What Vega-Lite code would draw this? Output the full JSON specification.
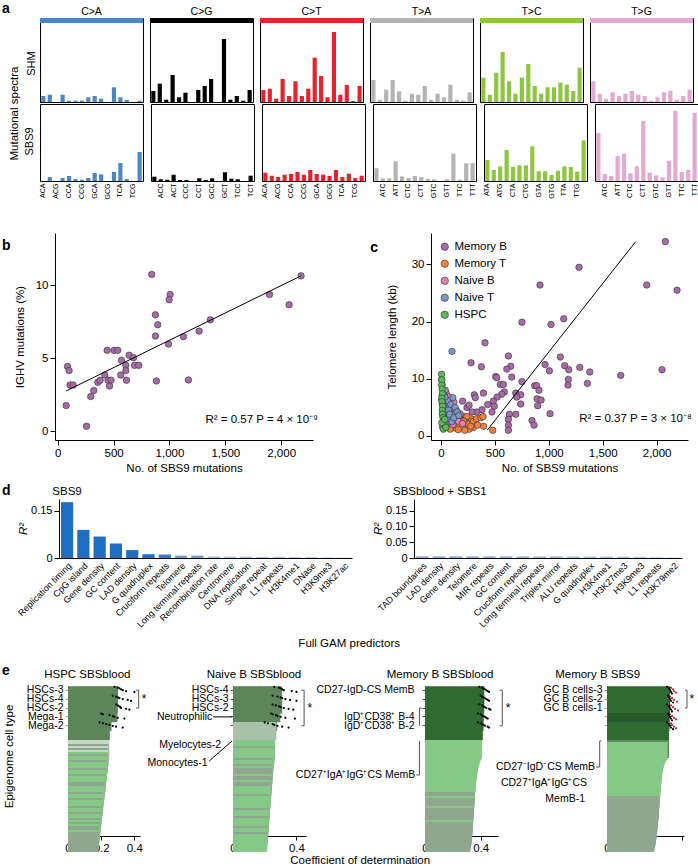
{
"$schema":"https://vega.github.io/schema/vega-lite/v6.json",
"padding":{"left":2,"top":2,"right":0,"bottom":0},
"resolve":{"scale":{"color":"independent","fill":"independent"}},
"config":{
 "font":"Liberation Sans",
 "view":{"stroke":null},
 "axis":{"labelFont":"Liberation Sans","titleFont":"Liberation Sans","labelColor":"#000","titleColor":"#000","titleFontWeight":"normal","domainColor":"#000","tickColor":"#000","grid":false,"labelFontSize":11,"titleFontSize":11.5},
 "title":{"font":"Liberation Sans","fontWeight":"normal","color":"#000","fontSize":11.5},
 "header":{"labelFont":"Liberation Sans","labelColor":"#000","titleFont":"Liberation Sans"},
 "legend":{"labelFont":"Liberation Sans","labelColor":"#000"},
 "text":{"font":"Liberation Sans"}
},
"datasets":{
"spec":[
{"s":"SHM","t":"C>A","strip":1},{"s":"SHM","t":"C>G","strip":1},{"s":"SHM","t":"C>T","strip":1},{"s":"SHM","t":"T>A","strip":1},{"s":"SHM","t":"T>C","strip":1},{"s":"SHM","t":"T>G","strip":1},
{"s":"SHM","t":"C>A","k":"ACA|1","v":6},{"s":"SHM","t":"C>A","k":"ACC|0","v":7.3},{"s":"SHM","t":"C>A","k":"ACG|1","v":0},{"s":"SHM","t":"C>A","k":"ACT|0","v":7.3},{"s":"SHM","t":"C>A","k":"CCA|1","v":1.3},{"s":"SHM","t":"C>A","k":"CCC|0","v":1.3},{"s":"SHM","t":"C>A","k":"CCG|1","v":1.3},{"s":"SHM","t":"C>A","k":"CCT|0","v":4.7},{"s":"SHM","t":"C>A","k":"GCA|1","v":6},{"s":"SHM","t":"C>A","k":"GCC|0","v":3.3},{"s":"SHM","t":"C>A","k":"GCG|1","v":0},{"s":"SHM","t":"C>A","k":"GCT|0","v":14.7},{"s":"SHM","t":"C>A","k":"TCA|1","v":4.7},{"s":"SHM","t":"C>A","k":"TCC|0","v":2},{"s":"SHM","t":"C>A","k":"TCG|1","v":0},{"s":"SHM","t":"C>A","k":"TCT|0","v":1.3},
{"s":"SHM","t":"C>G","k":"ACA|0","v":11},{"s":"SHM","t":"C>G","k":"ACC|1","v":18.3},{"s":"SHM","t":"C>G","k":"ACG|0","v":2.3},{"s":"SHM","t":"C>G","k":"ACT|1","v":27},{"s":"SHM","t":"C>G","k":"CCA|0","v":4.7},{"s":"SHM","t":"C>G","k":"CCC|1","v":9.3},{"s":"SHM","t":"C>G","k":"CCG|0","v":0},{"s":"SHM","t":"C>G","k":"CCT|1","v":12},{"s":"SHM","t":"C>G","k":"GCA|0","v":16},{"s":"SHM","t":"C>G","k":"GCC|1","v":23},{"s":"SHM","t":"C>G","k":"GCG|0","v":0},{"s":"SHM","t":"C>G","k":"GCT|1","v":63},{"s":"SHM","t":"C>G","k":"TCA|0","v":2.3},{"s":"SHM","t":"C>G","k":"TCC|1","v":6},{"s":"SHM","t":"C>G","k":"TCG|0","v":1.3},{"s":"SHM","t":"C>G","k":"TCT|1","v":12},
{"s":"SHM","t":"C>T","k":"ACA|1","v":12},{"s":"SHM","t":"C>T","k":"ACC|0","v":13.3},{"s":"SHM","t":"C>T","k":"ACG|1","v":3.3},{"s":"SHM","t":"C>T","k":"ACT|0","v":23},{"s":"SHM","t":"C>T","k":"CCA|1","v":6},{"s":"SHM","t":"C>T","k":"CCC|0","v":20.7},{"s":"SHM","t":"C>T","k":"CCG|1","v":6},{"s":"SHM","t":"C>T","k":"CCT|0","v":13.3},{"s":"SHM","t":"C>T","k":"GCA|1","v":44.3},{"s":"SHM","t":"C>T","k":"GCC|0","v":26},{"s":"SHM","t":"C>T","k":"GCG|1","v":4.7},{"s":"SHM","t":"C>T","k":"GCT|0","v":70},{"s":"SHM","t":"C>T","k":"TCA|1","v":7.3},{"s":"SHM","t":"C>T","k":"TCC|0","v":17},{"s":"SHM","t":"C>T","k":"TCG|1","v":1},{"s":"SHM","t":"C>T","k":"TCT|0","v":16},
{"s":"SHM","t":"T>A","k":"ATA|0","v":22},{"s":"SHM","t":"T>A","k":"ATC|1","v":2.3},{"s":"SHM","t":"T>A","k":"ATG|0","v":12.3},{"s":"SHM","t":"T>A","k":"ATT|1","v":22},{"s":"SHM","t":"T>A","k":"CTA|0","v":10.7},{"s":"SHM","t":"T>A","k":"CTC|1","v":1.3},{"s":"SHM","t":"T>A","k":"CTG|0","v":8.3},{"s":"SHM","t":"T>A","k":"CTT|1","v":7.3},{"s":"SHM","t":"T>A","k":"GTA|0","v":16},{"s":"SHM","t":"T>A","k":"GTC|1","v":2.3},{"s":"SHM","t":"T>A","k":"GTG|0","v":8.3},{"s":"SHM","t":"T>A","k":"GTT|1","v":4.7},{"s":"SHM","t":"T>A","k":"TTA|0","v":17.3},{"s":"SHM","t":"T>A","k":"TTC|1","v":2.3},{"s":"SHM","t":"T>A","k":"TTG|0","v":1.3},{"s":"SHM","t":"T>A","k":"TTT|1","v":9.7},
{"s":"SHM","t":"T>C","k":"ATA|1","v":24.3},{"s":"SHM","t":"T>C","k":"ATC|0","v":7.3},{"s":"SHM","t":"T>C","k":"ATG|1","v":29.3},{"s":"SHM","t":"T>C","k":"ATT|0","v":50},{"s":"SHM","t":"T>C","k":"CTA|1","v":20.7},{"s":"SHM","t":"T>C","k":"CTC|0","v":8.3},{"s":"SHM","t":"T>C","k":"CTG|1","v":24.3},{"s":"SHM","t":"T>C","k":"CTT|0","v":38},{"s":"SHM","t":"T>C","k":"GTA|1","v":16},{"s":"SHM","t":"T>C","k":"GTC|0","v":8.3},{"s":"SHM","t":"T>C","k":"GTG|1","v":14.7},{"s":"SHM","t":"T>C","k":"GTT|0","v":14.7},{"s":"SHM","t":"T>C","k":"TTA|1","v":19.3},{"s":"SHM","t":"T>C","k":"TTC|0","v":17.3},{"s":"SHM","t":"T>C","k":"TTG|1","v":11},{"s":"SHM","t":"T>C","k":"TTT|0","v":34.3},
{"s":"SHM","t":"T>G","k":"ATA|0","v":20.7},{"s":"SHM","t":"T>G","k":"ATC|1","v":8.3},{"s":"SHM","t":"T>G","k":"ATG|0","v":3.3},{"s":"SHM","t":"T>G","k":"ATT|1","v":9.7},{"s":"SHM","t":"T>G","k":"CTA|0","v":6},{"s":"SHM","t":"T>G","k":"CTC|1","v":8.3},{"s":"SHM","t":"T>G","k":"CTG|0","v":11},{"s":"SHM","t":"T>G","k":"CTT|1","v":7.3},{"s":"SHM","t":"T>G","k":"GTA|0","v":6},{"s":"SHM","t":"T>G","k":"GTC|1","v":1.3},{"s":"SHM","t":"T>G","k":"GTG|0","v":4.7},{"s":"SHM","t":"T>G","k":"GTT|1","v":9.7},{"s":"SHM","t":"T>G","k":"TTA|0","v":11},{"s":"SHM","t":"T>G","k":"TTC|1","v":2.3},{"s":"SHM","t":"T>G","k":"TTG|0","v":6},{"s":"SHM","t":"T>G","k":"TTT|1","v":12.3},
{"s":"SBS9","t":"C>A","k":"ACA|1","v":0},{"s":"SBS9","t":"C>A","k":"ACC|0","v":4},{"s":"SBS9","t":"C>A","k":"ACG|1","v":0},{"s":"SBS9","t":"C>A","k":"ACT|0","v":3},{"s":"SBS9","t":"C>A","k":"CCA|1","v":5},{"s":"SBS9","t":"C>A","k":"CCC|0","v":2},{"s":"SBS9","t":"C>A","k":"CCG|1","v":1.3},{"s":"SBS9","t":"C>A","k":"CCT|0","v":3},{"s":"SBS9","t":"C>A","k":"GCA|1","v":8},{"s":"SBS9","t":"C>A","k":"GCC|0","v":6.7},{"s":"SBS9","t":"C>A","k":"GCG|1","v":0},{"s":"SBS9","t":"C>A","k":"GCT|0","v":9},{"s":"SBS9","t":"C>A","k":"TCA|1","v":18},{"s":"SBS9","t":"C>A","k":"TCC|0","v":2},{"s":"SBS9","t":"C>A","k":"TCG|1","v":0},{"s":"SBS9","t":"C>A","k":"TCT|0","v":29},
{"s":"SBS9","t":"C>G","k":"ACA|0","v":4.3},{"s":"SBS9","t":"C>G","k":"ACC|1","v":1.7},{"s":"SBS9","t":"C>G","k":"ACG|0","v":1.3},{"s":"SBS9","t":"C>G","k":"ACT|1","v":6.3},{"s":"SBS9","t":"C>G","k":"CCA|0","v":1},{"s":"SBS9","t":"C>G","k":"CCC|1","v":1},{"s":"SBS9","t":"C>G","k":"CCG|0","v":0},{"s":"SBS9","t":"C>G","k":"CCT|1","v":2.7},{"s":"SBS9","t":"C>G","k":"GCA|0","v":1},{"s":"SBS9","t":"C>G","k":"GCC|1","v":2.7},{"s":"SBS9","t":"C>G","k":"GCG|0","v":0},{"s":"SBS9","t":"C>G","k":"GCT|1","v":8.7},{"s":"SBS9","t":"C>G","k":"TCA|0","v":2.3},{"s":"SBS9","t":"C>G","k":"TCC|1","v":1.7},{"s":"SBS9","t":"C>G","k":"TCG|0","v":0},{"s":"SBS9","t":"C>G","k":"TCT|1","v":5.3},
{"s":"SBS9","t":"C>T","k":"ACA|1","v":8.3},{"s":"SBS9","t":"C>T","k":"ACC|0","v":5.3},{"s":"SBS9","t":"C>T","k":"ACG|1","v":4},{"s":"SBS9","t":"C>T","k":"ACT|0","v":6.3},{"s":"SBS9","t":"C>T","k":"CCA|1","v":7},{"s":"SBS9","t":"C>T","k":"CCC|0","v":9},{"s":"SBS9","t":"C>T","k":"CCG|1","v":6.3},{"s":"SBS9","t":"C>T","k":"CCT|0","v":11},{"s":"SBS9","t":"C>T","k":"GCA|1","v":7},{"s":"SBS9","t":"C>T","k":"GCC|0","v":6.3},{"s":"SBS9","t":"C>T","k":"GCG|1","v":5},{"s":"SBS9","t":"C>T","k":"GCT|0","v":11},{"s":"SBS9","t":"C>T","k":"TCA|1","v":4},{"s":"SBS9","t":"C>T","k":"TCC|0","v":7.3},{"s":"SBS9","t":"C>T","k":"TCG|1","v":3},{"s":"SBS9","t":"C>T","k":"TCT|0","v":5.3},
{"s":"SBS9","t":"T>A","k":"ATA|0","v":12.7},{"s":"SBS9","t":"T>A","k":"ATC|1","v":2.7},{"s":"SBS9","t":"T>A","k":"ATG|0","v":2.7},{"s":"SBS9","t":"T>A","k":"ATT|1","v":19.7},{"s":"SBS9","t":"T>A","k":"CTA|0","v":4.7},{"s":"SBS9","t":"T>A","k":"CTC|1","v":3},{"s":"SBS9","t":"T>A","k":"CTG|0","v":5},{"s":"SBS9","t":"T>A","k":"CTT|1","v":4},{"s":"SBS9","t":"T>A","k":"GTA|0","v":2.3},{"s":"SBS9","t":"T>A","k":"GTC|1","v":1.7},{"s":"SBS9","t":"T>A","k":"GTG|0","v":0},{"s":"SBS9","t":"T>A","k":"GTT|1","v":1.7},{"s":"SBS9","t":"T>A","k":"TTA|0","v":27.3},{"s":"SBS9","t":"T>A","k":"TTC|1","v":1.3},{"s":"SBS9","t":"T>A","k":"TTG|0","v":17.7},{"s":"SBS9","t":"T>A","k":"TTT|1","v":18},
{"s":"SBS9","t":"T>C","k":"ATA|1","v":21},{"s":"SBS9","t":"T>C","k":"ATC|0","v":11},{"s":"SBS9","t":"T>C","k":"ATG|1","v":14.7},{"s":"SBS9","t":"T>C","k":"ATT|0","v":31},{"s":"SBS9","t":"T>C","k":"CTA|1","v":14},{"s":"SBS9","t":"T>C","k":"CTC|0","v":15.7},{"s":"SBS9","t":"T>C","k":"CTG|1","v":15.7},{"s":"SBS9","t":"T>C","k":"CTT|0","v":34.7},{"s":"SBS9","t":"T>C","k":"GTA|1","v":9.7},{"s":"SBS9","t":"T>C","k":"GTC|0","v":9.7},{"s":"SBS9","t":"T>C","k":"GTG|1","v":6},{"s":"SBS9","t":"T>C","k":"GTT|0","v":10.3},{"s":"SBS9","t":"T>C","k":"TTA|1","v":14.7},{"s":"SBS9","t":"T>C","k":"TTC|0","v":14},{"s":"SBS9","t":"T>C","k":"TTG|1","v":9.3},{"s":"SBS9","t":"T>C","k":"TTT|0","v":40.7},
{"s":"SBS9","t":"T>G","k":"ATA|0","v":48},{"s":"SBS9","t":"T>G","k":"ATC|1","v":7},{"s":"SBS9","t":"T>G","k":"ATG|0","v":5},{"s":"SBS9","t":"T>G","k":"ATT|1","v":25},{"s":"SBS9","t":"T>G","k":"CTA|0","v":27.3},{"s":"SBS9","t":"T>G","k":"CTC|1","v":7.7},{"s":"SBS9","t":"T>G","k":"CTG|0","v":14.7},{"s":"SBS9","t":"T>G","k":"CTT|1","v":60},{"s":"SBS9","t":"T>G","k":"GTA|0","v":8.3},{"s":"SBS9","t":"T>G","k":"GTC|1","v":5.7},{"s":"SBS9","t":"T>G","k":"GTG|0","v":3.7},{"s":"SBS9","t":"T>G","k":"GTT|1","v":20.3},{"s":"SBS9","t":"T>G","k":"TTA|0","v":70},{"s":"SBS9","t":"T>G","k":"TTC|1","v":9},{"s":"SBS9","t":"T>G","k":"TTG|0","v":11},{"s":"SBS9","t":"T>G","k":"TTT|1","v":68}
],
"bpts":[{"n":841,"p":10.76},{"n":2178,"p":10.66},{"n":1006,"p":9.38},{"n":997,"p":9.02},{"n":1895,"p":9.38},{"n":2071,"p":8.68},{"n":874,"p":7.99},{"n":895,"p":7.31},{"n":1366,"p":7.65},{"n":1265,"p":6.87},{"n":874,"p":6.53},{"n":1125,"p":6.49},{"n":991,"p":5.98},{"n":442,"p":5.55},{"n":504,"p":5.55},{"n":537,"p":5.55},{"n":639,"p":5.21},{"n":678,"p":5.05},{"n":570,"p":4.87},{"n":687,"p":4.52},{"n":725,"p":4.52},{"n":609,"p":4.52},{"n":609,"p":4.16},{"n":87,"p":4.45},{"n":101,"p":4.16},{"n":110,"p":3.17},{"n":137,"p":3.17},{"n":421,"p":3.86},{"n":564,"p":3.86},{"n":358,"p":3.36},{"n":379,"p":3.5},{"n":450,"p":3.5},{"n":477,"p":3.5},{"n":463,"p":3.1},{"n":615,"p":3.5},{"n":883,"p":3.45},{"n":1170,"p":3.52},{"n":322,"p":2.79},{"n":295,"p":2.38},{"n":75,"p":1.76},{"n":257,"p":0.34}],
"bfit":[{"n":75,"p":2.77},{"n":2178,"p":10.66}],
"cpts":[
{"n":2081,"tl":34.0,"g":"Memory B"},{"n":1280,"tl":29.5,"g":"Memory B"},{"n":918,"tl":26.4,"g":"Memory B"},{"n":1908,"tl":26.4,"g":"Memory B"},{"n":2189,"tl":25.5,"g":"Memory B"},{"n":1138,"tl":20.5,"g":"Memory B"},{"n":751,"tl":19.9,"g":"Memory B"},{"n":1020,"tl":19.5,"g":"Memory B"},{"n":408,"tl":16.3,"g":"Memory B"},{"n":625,"tl":14.0,"g":"Memory B"},{"n":278,"tl":12.8,"g":"Memory B"},{"n":374,"tl":12.1,"g":"Memory B"},{"n":965,"tl":12.5,"g":"Memory B"},{"n":1147,"tl":12.3,"g":"Memory B"},{"n":1107,"tl":13.8,"g":"Memory B"},{"n":1287,"tl":12.0,"g":"Memory B"},{"n":2050,"tl":11.6,"g":"Memory B"},{"n":647,"tl":12.2,"g":"Memory B"},{"n":610,"tl":11.7,"g":"Memory B"},{"n":1005,"tl":11.4,"g":"Memory B"},{"n":1185,"tl":11.6,"g":"Memory B"},{"n":1380,"tl":11.2,"g":"Memory B"},{"n":507,"tl":10.4,"g":"Memory B"},{"n":517,"tl":10.2,"g":"Memory B"},{"n":656,"tl":10.3,"g":"Memory B"},{"n":1667,"tl":10.6,"g":"Memory B"},{"n":1358,"tl":9.2,"g":"Memory B"},{"n":1181,"tl":9.9,"g":"Memory B"},{"n":1178,"tl":8.9,"g":"Memory B"},{"n":751,"tl":9.5,"g":"Memory B"},{"n":550,"tl":9.0,"g":"Memory B"},{"n":578,"tl":9.0,"g":"Memory B"},{"n":869,"tl":8.8,"g":"Memory B"},{"n":888,"tl":8.8,"g":"Memory B"},{"n":909,"tl":8.0,"g":"Memory B"},{"n":587,"tl":7.7,"g":"Memory B"},{"n":563,"tl":7.3,"g":"Memory B"},{"n":693,"tl":7.5,"g":"Memory B"},{"n":739,"tl":7.2,"g":"Memory B"},{"n":309,"tl":7.2,"g":"Memory B"},{"n":318,"tl":6.7,"g":"Memory B"},{"n":393,"tl":7.5,"g":"Memory B"},{"n":520,"tl":6.8,"g":"Memory B"},{"n":702,"tl":6.8,"g":"Memory B"},{"n":891,"tl":6.5,"g":"Memory B"},{"n":928,"tl":6.3,"g":"Memory B"},{"n":485,"tl":6.1,"g":"Memory B"},{"n":433,"tl":5.5,"g":"Memory B"},{"n":897,"tl":5.3,"g":"Memory B"},{"n":739,"tl":5.6,"g":"Memory B"},{"n":494,"tl":5.2,"g":"Memory B"},{"n":380,"tl":4.6,"g":"Memory B"},{"n":473,"tl":4.2,"g":"Memory B"},{"n":331,"tl":4.2,"g":"Memory B"},{"n":634,"tl":3.8,"g":"Memory B"},{"n":693,"tl":3.8,"g":"Memory B"},{"n":1011,"tl":3.9,"g":"Memory B"},{"n":625,"tl":2.9,"g":"Memory B"},{"n":844,"tl":2.7,"g":"Memory B"},{"n":863,"tl":1.9,"g":"Memory B"},{"n":625,"tl":1.9,"g":"Memory B"},{"n":625,"tl":1.0,"g":"Memory B"},{"n":220,"tl":3.4,"g":"Memory B"},{"n":241,"tl":5.0,"g":"Memory B"},{"n":288,"tl":4.2,"g":"Memory B"},{"n":170,"tl":3.9,"g":"Memory B"},{"n":83,"tl":5.2,"g":"Memory B"},{"n":150,"tl":2.5,"g":"Memory B"},{"n":200,"tl":6.1,"g":"Memory B"},{"n":260,"tl":5.4,"g":"Memory B"},
{"n":8,"tl":6.3,"g":"Memory T"},{"n":12,"tl":5.6,"g":"Memory T"},{"n":20,"tl":4.8,"g":"Memory T"},{"n":35,"tl":4.2,"g":"Memory T"},{"n":50,"tl":3.6,"g":"Memory T"},{"n":70,"tl":3.2,"g":"Memory T"},{"n":95,"tl":2.9,"g":"Memory T"},{"n":120,"tl":2.4,"g":"Memory T"},{"n":145,"tl":2.0,"g":"Memory T"},{"n":170,"tl":1.8,"g":"Memory T"},{"n":200,"tl":1.5,"g":"Memory T"},{"n":230,"tl":2.9,"g":"Memory T"},{"n":250,"tl":2.2,"g":"Memory T"},{"n":280,"tl":3.0,"g":"Memory T"},{"n":300,"tl":2.6,"g":"Memory T"},{"n":330,"tl":3.0,"g":"Memory T"},{"n":370,"tl":3.2,"g":"Memory T"},{"n":390,"tl":3.4,"g":"Memory T"},{"n":300,"tl":1.5,"g":"Memory T"},{"n":260,"tl":1.2,"g":"Memory T"},{"n":220,"tl":1.0,"g":"Memory T"},{"n":190,"tl":2.5,"g":"Memory T"},{"n":150,"tl":3.0,"g":"Memory T"},{"n":130,"tl":1.4,"g":"Memory T"},{"n":100,"tl":1.8,"g":"Memory T"},{"n":60,"tl":2.0,"g":"Memory T"},{"n":40,"tl":1.5,"g":"Memory T"},{"n":85,"tl":1.2,"g":"Memory T"},{"n":110,"tl":3.8,"g":"Memory T"},{"n":55,"tl":4.8,"g":"Memory T"},{"n":30,"tl":2.4,"g":"Memory T"},{"n":480,"tl":1.0,"g":"Memory T"},{"n":395,"tl":1.7,"g":"Memory T"},{"n":340,"tl":1.9,"g":"Memory T"},{"n":275,"tl":1.7,"g":"Memory T"},{"n":160,"tl":1.1,"g":"Memory T"},{"n":240,"tl":3.4,"g":"Memory T"},{"n":210,"tl":2.6,"g":"Memory T"},
{"n":10,"tl":7.0,"g":"Naive B"},{"n":30,"tl":6.5,"g":"Naive B"},{"n":50,"tl":7.4,"g":"Naive B"},{"n":70,"tl":5.8,"g":"Naive B"},{"n":95,"tl":4.8,"g":"Naive B"},{"n":20,"tl":5.3,"g":"Naive B"},{"n":120,"tl":5.9,"g":"Naive B"},{"n":140,"tl":4.6,"g":"Naive B"},{"n":40,"tl":4.2,"g":"Naive B"},{"n":85,"tl":3.4,"g":"Naive B"},{"n":60,"tl":2.8,"g":"Naive B"},{"n":110,"tl":2.0,"g":"Naive B"},{"n":25,"tl":2.5,"g":"Naive B"},{"n":75,"tl":6.8,"g":"Naive B"},{"n":180,"tl":3.8,"g":"Naive B"},{"n":160,"tl":2.6,"g":"Naive B"},{"n":200,"tl":2.2,"g":"Naive B"},{"n":15,"tl":4.0,"g":"Naive B"},
{"n":102,"tl":14.8,"g":"Naive T"},{"n":5,"tl":9.9,"g":"Naive T"},{"n":10,"tl":9.0,"g":"Naive T"},{"n":40,"tl":8.0,"g":"Naive T"},{"n":25,"tl":7.2,"g":"Naive T"},{"n":110,"tl":6.7,"g":"Naive T"},{"n":60,"tl":6.2,"g":"Naive T"},{"n":90,"tl":5.5,"g":"Naive T"},{"n":130,"tl":5.0,"g":"Naive T"},{"n":150,"tl":4.2,"g":"Naive T"},{"n":70,"tl":4.5,"g":"Naive T"},{"n":20,"tl":3.5,"g":"Naive T"},{"n":55,"tl":3.0,"g":"Naive T"},{"n":100,"tl":2.5,"g":"Naive T"},{"n":35,"tl":6.8,"g":"Naive T"},{"n":80,"tl":3.8,"g":"Naive T"},{"n":15,"tl":5.8,"g":"Naive T"},{"n":120,"tl":3.2,"g":"Naive T"},{"n":45,"tl":2.2,"g":"Naive T"},{"n":165,"tl":3.6,"g":"Naive T"},
{"n":5,"tl":10.8,"g":"HSPC"},{"n":8,"tl":9.8,"g":"HSPC"},{"n":6,"tl":8.9,"g":"HSPC"},{"n":10,"tl":8.2,"g":"HSPC"},{"n":12,"tl":7.4,"g":"HSPC"},{"n":7,"tl":6.6,"g":"HSPC"},{"n":9,"tl":6.0,"g":"HSPC"},{"n":15,"tl":5.2,"g":"HSPC"},{"n":11,"tl":4.5,"g":"HSPC"},{"n":13,"tl":3.8,"g":"HSPC"},{"n":18,"tl":3.2,"g":"HSPC"},{"n":20,"tl":2.6,"g":"HSPC"},{"n":25,"tl":2.0,"g":"HSPC"},{"n":14,"tl":1.6,"g":"HSPC"},{"n":30,"tl":1.4,"g":"HSPC"},{"n":22,"tl":1.2,"g":"HSPC"},{"n":40,"tl":1.8,"g":"HSPC"},{"n":8,"tl":2.3,"g":"HSPC"},{"n":35,"tl":2.9,"g":"HSPC"},{"n":45,"tl":1.5,"g":"HSPC"}
],
"cfit":[{"n":430,"tl":1.05},{"n":1806,"tl":34.0}],
"dl":[{"f":"Replication timing","r":0.177},{"f":"CpG island","r":0.089},{"f":"Gene density","r":0.068},{"f":"GC content","r":0.046},{"f":"LAD density","r":0.025},{"f":"G quadruplex","r":0.012},{"f":"Cruciform repeats","r":0.011},{"f":"Telomere","r":0.0075},{"f":"Long terminal repeats","r":0.0075},{"f":"Recombination rate","r":0.0045},{"f":"Centromere","r":0.004},{"f":"DNA replication","r":0.004},{"f":"Simple repeat","r":0.0035},{"f":"L1 repeats","r":0.0035},{"f":"H3K4me1","r":0.003},{"f":"DNase","r":0.003},{"f":"H3K9me3","r":0.002},{"f":"H3K27ac","r":0.0012}],
"dr":[{"f":"TAD boundaries","r":0.0055},{"f":"LAD density","r":0.0055},{"f":"Gene density","r":0.0054},{"f":"Telomere","r":0.0053},{"f":"MIR repeats","r":0.0053},{"f":"GC content","r":0.0052},{"f":"Cruciform repeats","r":0.0051},{"f":"Long terminal repeats","r":0.005},{"f":"Triplex mirror","r":0.005},{"f":"ALU repeats","r":0.0045},{"f":"G quadruplex","r":0.0043},{"f":"H3K4me1","r":0.0042},{"f":"H3K27me3","r":0.004},{"f":"H3K9me3","r":0.0032},{"f":"L1 repeats","r":0.0026},{"f":"H3K79me2","r":0.0015}],
"eTop":[
{"c":"e1","n":"HSCs-3","v":0.302,"o":"k1"},{"c":"e1","n":"HSCs-4","v":0.300,"o":"k1"},{"c":"e1","n":"HSCs-2","v":0.298,"o":"k1"},{"c":"e1","n":"Mega-1","v":0.262,"o":"k1"},{"c":"e1","n":"Mega-2","v":0.252,"o":"k1"},
{"c":"e2","n":"HSCs-4","v":0.308,"o":"k1"},{"c":"e2","n":"HSCs-3","v":0.310,"o":"k1"},{"c":"e2","n":"HSCs-2","v":0.298,"o":"k1"},{"c":"e2","n":"Neutrophilic Myelocytes-2","v":0.278,"o":"k1"},{"c":"e2","n":"Monocytes-1","v":0.273,"o":"l"},
{"c":"e3","n":"CD27-IgD-CS MemB","v":0.425,"o":"k2"},{"c":"e3","n":"IgD⁺CD38⁺ B-1","v":0.425,"o":"k2"},{"c":"e3","n":"IgD⁺CD38⁺ B-3","v":0.420,"o":"k2"},{"c":"e3","n":"IgD⁺CD38⁺ B-4","v":0.420,"o":"k2"},{"c":"e3","n":"IgD⁺CD38⁺ B-2","v":0.415,"o":"k2"},
{"c":"e4","n":"GC B cells-3","v":0.630,"o":"k2"},{"c":"e4","n":"GC B cells-2","v":0.630,"o":"k2"},{"c":"e4","n":"GC B cells-1","v":0.625,"o":"k2"},{"c":"e4","n":"CD27⁻IgD⁻CS MemB","v":0.625,"o":"k3"},{"c":"e4","n":"CD27⁺IgA⁺IgG⁺CS MemB-1","v":0.620,"o":"k2"}
],
"eDots":[
{"c":"e1","n":"HSCs-3","r":1,"v":0.28,"k":"b"},{"c":"e1","n":"HSCs-3","r":2,"v":0.30,"k":"b"},{"c":"e1","n":"HSCs-3","r":3,"v":0.31,"k":"b"},{"c":"e1","n":"HSCs-3","r":4,"v":0.32,"k":"b"},{"c":"e1","n":"HSCs-3","r":5,"v":0.33,"k":"b"},{"c":"e1","n":"HSCs-3","r":6,"v":0.35,"k":"b"},{"c":"e1","n":"HSCs-3","r":7,"v":0.40,"k":"b"},
{"c":"e1","n":"HSCs-4","r":1,"v":0.27,"k":"b"},{"c":"e1","n":"HSCs-4","r":2,"v":0.29,"k":"b"},{"c":"e1","n":"HSCs-4","r":3,"v":0.30,"k":"b"},{"c":"e1","n":"HSCs-4","r":4,"v":0.31,"k":"b"},{"c":"e1","n":"HSCs-4","r":5,"v":0.33,"k":"b"},{"c":"e1","n":"HSCs-4","r":6,"v":0.36,"k":"b"},{"c":"e1","n":"HSCs-4","r":7,"v":0.38,"k":"b"},
{"c":"e1","n":"HSCs-2","r":1,"v":0.29,"k":"b"},{"c":"e1","n":"HSCs-2","r":2,"v":0.30,"k":"b"},{"c":"e1","n":"HSCs-2","r":3,"v":0.31,"k":"b"},{"c":"e1","n":"HSCs-2","r":4,"v":0.315,"k":"b"},{"c":"e1","n":"HSCs-2","r":5,"v":0.32,"k":"b"},{"c":"e1","n":"HSCs-2","r":6,"v":0.35,"k":"b"},{"c":"e1","n":"HSCs-2","r":7,"v":0.37,"k":"b"},
{"c":"e1","n":"Mega-1","r":1,"v":0.20,"k":"b"},{"c":"e1","n":"Mega-1","r":2,"v":0.21,"k":"b"},{"c":"e1","n":"Mega-1","r":3,"v":0.25,"k":"b"},{"c":"e1","n":"Mega-1","r":4,"v":0.27,"k":"b"},{"c":"e1","n":"Mega-1","r":5,"v":0.28,"k":"b"},{"c":"e1","n":"Mega-1","r":6,"v":0.30,"k":"b"},{"c":"e1","n":"Mega-1","r":7,"v":0.34,"k":"b"},
{"c":"e1","n":"Mega-2","r":1,"v":0.19,"k":"b"},{"c":"e1","n":"Mega-2","r":2,"v":0.21,"k":"b"},{"c":"e1","n":"Mega-2","r":3,"v":0.23,"k":"b"},{"c":"e1","n":"Mega-2","r":4,"v":0.25,"k":"b"},{"c":"e1","n":"Mega-2","r":5,"v":0.27,"k":"b"},{"c":"e1","n":"Mega-2","r":6,"v":0.29,"k":"b"},{"c":"e1","n":"Mega-2","r":7,"v":0.33,"k":"b"},
{"c":"e2","n":"HSCs-4","r":1,"v":0.26,"k":"b"},{"c":"e2","n":"HSCs-4","r":2,"v":0.29,"k":"b"},{"c":"e2","n":"HSCs-4","r":3,"v":0.30,"k":"b"},{"c":"e2","n":"HSCs-4","r":4,"v":0.31,"k":"b"},{"c":"e2","n":"HSCs-4","r":5,"v":0.32,"k":"b"},{"c":"e2","n":"HSCs-4","r":6,"v":0.37,"k":"b"},{"c":"e2","n":"HSCs-4","r":7,"v":0.40,"k":"b"},
{"c":"e2","n":"HSCs-3","r":1,"v":0.25,"k":"b"},{"c":"e2","n":"HSCs-3","r":2,"v":0.28,"k":"b"},{"c":"e2","n":"HSCs-3","r":3,"v":0.30,"k":"b"},{"c":"e2","n":"HSCs-3","r":4,"v":0.31,"k":"b"},{"c":"e2","n":"HSCs-3","r":5,"v":0.33,"k":"b"},{"c":"e2","n":"HSCs-3","r":6,"v":0.36,"k":"b"},{"c":"e2","n":"HSCs-3","r":7,"v":0.40,"k":"b"},
{"c":"e2","n":"HSCs-2","r":1,"v":0.25,"k":"b"},{"c":"e2","n":"HSCs-2","r":2,"v":0.27,"k":"b"},{"c":"e2","n":"HSCs-2","r":3,"v":0.29,"k":"b"},{"c":"e2","n":"HSCs-2","r":4,"v":0.30,"k":"b"},{"c":"e2","n":"HSCs-2","r":5,"v":0.32,"k":"b"},{"c":"e2","n":"HSCs-2","r":6,"v":0.35,"k":"b"},{"c":"e2","n":"HSCs-2","r":7,"v":0.38,"k":"b"},
{"c":"e2","n":"Neutrophilic Myelocytes-2","r":1,"v":0.24,"k":"b"},{"c":"e2","n":"Neutrophilic Myelocytes-2","r":2,"v":0.25,"k":"b"},{"c":"e2","n":"Neutrophilic Myelocytes-2","r":3,"v":0.27,"k":"b"},{"c":"e2","n":"Neutrophilic Myelocytes-2","r":4,"v":0.28,"k":"b"},{"c":"e2","n":"Neutrophilic Myelocytes-2","r":5,"v":0.30,"k":"b"},{"c":"e2","n":"Neutrophilic Myelocytes-2","r":6,"v":0.33,"k":"b"},{"c":"e2","n":"Neutrophilic Myelocytes-2","r":7,"v":0.39,"k":"b"},
{"c":"e2","n":"Monocytes-1","r":1,"v":0.20,"k":"b"},{"c":"e2","n":"Monocytes-1","r":2,"v":0.22,"k":"b"},{"c":"e2","n":"Monocytes-1","r":3,"v":0.25,"k":"b"},{"c":"e2","n":"Monocytes-1","r":4,"v":0.26,"k":"b"},{"c":"e2","n":"Monocytes-1","r":5,"v":0.28,"k":"b"},{"c":"e2","n":"Monocytes-1","r":6,"v":0.31,"k":"b"},{"c":"e2","n":"Monocytes-1","r":7,"v":0.35,"k":"b"},
{"c":"e3","n":"CD27-IgD-CS MemB","r":1,"v":0.39,"k":"b"},{"c":"e3","n":"CD27-IgD-CS MemB","r":2,"v":0.41,"k":"b"},{"c":"e3","n":"CD27-IgD-CS MemB","r":3,"v":0.42,"k":"b"},{"c":"e3","n":"CD27-IgD-CS MemB","r":4,"v":0.43,"k":"b"},{"c":"e3","n":"CD27-IgD-CS MemB","r":5,"v":0.44,"k":"b"},{"c":"e3","n":"CD27-IgD-CS MemB","r":6,"v":0.45,"k":"b"},{"c":"e3","n":"CD27-IgD-CS MemB","r":7,"v":0.46,"k":"b"},
{"c":"e3","n":"IgD⁺CD38⁺ B-1","r":1,"v":0.40,"k":"b"},{"c":"e3","n":"IgD⁺CD38⁺ B-1","r":2,"v":0.41,"k":"b"},{"c":"e3","n":"IgD⁺CD38⁺ B-1","r":3,"v":0.42,"k":"b"},{"c":"e3","n":"IgD⁺CD38⁺ B-1","r":4,"v":0.43,"k":"b"},{"c":"e3","n":"IgD⁺CD38⁺ B-1","r":5,"v":0.44,"k":"b"},{"c":"e3","n":"IgD⁺CD38⁺ B-1","r":6,"v":0.45,"k":"b"},{"c":"e3","n":"IgD⁺CD38⁺ B-1","r":7,"v":0.46,"k":"b"},
{"c":"e3","n":"IgD⁺CD38⁺ B-3","r":1,"v":0.39,"k":"b"},{"c":"e3","n":"IgD⁺CD38⁺ B-3","r":2,"v":0.41,"k":"b"},{"c":"e3","n":"IgD⁺CD38⁺ B-3","r":3,"v":0.42,"k":"b"},{"c":"e3","n":"IgD⁺CD38⁺ B-3","r":4,"v":0.43,"k":"b"},{"c":"e3","n":"IgD⁺CD38⁺ B-3","r":5,"v":0.44,"k":"b"},{"c":"e3","n":"IgD⁺CD38⁺ B-3","r":6,"v":0.46,"k":"b"},{"c":"e3","n":"IgD⁺CD38⁺ B-3","r":7,"v":0.47,"k":"b"},
{"c":"e3","n":"IgD⁺CD38⁺ B-4","r":1,"v":0.38,"k":"b"},{"c":"e3","n":"IgD⁺CD38⁺ B-4","r":2,"v":0.40,"k":"b"},{"c":"e3","n":"IgD⁺CD38⁺ B-4","r":3,"v":0.41,"k":"b"},{"c":"e3","n":"IgD⁺CD38⁺ B-4","r":4,"v":0.42,"k":"b"},{"c":"e3","n":"IgD⁺CD38⁺ B-4","r":5,"v":0.43,"k":"b"},{"c":"e3","n":"IgD⁺CD38⁺ B-4","r":6,"v":0.44,"k":"b"},{"c":"e3","n":"IgD⁺CD38⁺ B-4","r":7,"v":0.45,"k":"b"},
{"c":"e3","n":"IgD⁺CD38⁺ B-2","r":1,"v":0.38,"k":"b"},{"c":"e3","n":"IgD⁺CD38⁺ B-2","r":2,"v":0.40,"k":"b"},{"c":"e3","n":"IgD⁺CD38⁺ B-2","r":3,"v":0.41,"k":"b"},{"c":"e3","n":"IgD⁺CD38⁺ B-2","r":4,"v":0.42,"k":"b"},{"c":"e3","n":"IgD⁺CD38⁺ B-2","r":5,"v":0.43,"k":"b"},{"c":"e3","n":"IgD⁺CD38⁺ B-2","r":6,"v":0.45,"k":"b"},{"c":"e3","n":"IgD⁺CD38⁺ B-2","r":7,"v":0.46,"k":"b"},
{"c":"e4","n":"GC B cells-3","r":1,"v":0.60,"k":"b"},{"c":"e4","n":"GC B cells-3","r":2,"v":0.64,"k":"r"},{"c":"e4","n":"GC B cells-3","r":3,"v":0.62,"k":"b"},{"c":"e4","n":"GC B cells-3","r":4,"v":0.66,"k":"r"},{"c":"e4","n":"GC B cells-3","r":5,"v":0.63,"k":"b"},{"c":"e4","n":"GC B cells-3","r":6,"v":0.67,"k":"r"},{"c":"e4","n":"GC B cells-3","r":7,"v":0.64,"k":"b"},{"c":"e4","n":"GC B cells-3","r":8,"v":0.69,"k":"r"},{"c":"e4","n":"GC B cells-3","r":9,"v":0.65,"k":"b"},
{"c":"e4","n":"GC B cells-2","r":1,"v":0.61,"k":"b"},{"c":"e4","n":"GC B cells-2","r":2,"v":0.63,"k":"r"},{"c":"e4","n":"GC B cells-2","r":3,"v":0.62,"k":"b"},{"c":"e4","n":"GC B cells-2","r":4,"v":0.65,"k":"r"},{"c":"e4","n":"GC B cells-2","r":5,"v":0.63,"k":"b"},{"c":"e4","n":"GC B cells-2","r":6,"v":0.67,"k":"r"},{"c":"e4","n":"GC B cells-2","r":7,"v":0.64,"k":"b"},{"c":"e4","n":"GC B cells-2","r":8,"v":0.70,"k":"r"},{"c":"e4","n":"GC B cells-2","r":9,"v":0.66,"k":"b"},
{"c":"e4","n":"GC B cells-1","r":1,"v":0.60,"k":"b"},{"c":"e4","n":"GC B cells-1","r":2,"v":0.64,"k":"r"},{"c":"e4","n":"GC B cells-1","r":3,"v":0.62,"k":"b"},{"c":"e4","n":"GC B cells-1","r":4,"v":0.66,"k":"r"},{"c":"e4","n":"GC B cells-1","r":5,"v":0.63,"k":"b"},{"c":"e4","n":"GC B cells-1","r":6,"v":0.68,"k":"r"},{"c":"e4","n":"GC B cells-1","r":7,"v":0.64,"k":"b"},{"c":"e4","n":"GC B cells-1","r":8,"v":0.71,"k":"r"},{"c":"e4","n":"GC B cells-1","r":9,"v":0.65,"k":"b"},
{"c":"e4","n":"CD27⁻IgD⁻CS MemB","r":1,"v":0.61,"k":"b"},{"c":"e4","n":"CD27⁻IgD⁻CS MemB","r":2,"v":0.63,"k":"r"},{"c":"e4","n":"CD27⁻IgD⁻CS MemB","r":3,"v":0.62,"k":"b"},{"c":"e4","n":"CD27⁻IgD⁻CS MemB","r":4,"v":0.65,"k":"r"},{"c":"e4","n":"CD27⁻IgD⁻CS MemB","r":5,"v":0.63,"k":"b"},{"c":"e4","n":"CD27⁻IgD⁻CS MemB","r":6,"v":0.67,"k":"r"},{"c":"e4","n":"CD27⁻IgD⁻CS MemB","r":7,"v":0.64,"k":"b"},{"c":"e4","n":"CD27⁻IgD⁻CS MemB","r":8,"v":0.69,"k":"r"},{"c":"e4","n":"CD27⁻IgD⁻CS MemB","r":9,"v":0.65,"k":"b"},
{"c":"e4","n":"CD27⁺IgA⁺IgG⁺CS MemB-1","r":1,"v":0.60,"k":"b"},{"c":"e4","n":"CD27⁺IgA⁺IgG⁺CS MemB-1","r":2,"v":0.64,"k":"r"},{"c":"e4","n":"CD27⁺IgA⁺IgG⁺CS MemB-1","r":3,"v":0.62,"k":"b"},{"c":"e4","n":"CD27⁺IgA⁺IgG⁺CS MemB-1","r":4,"v":0.65,"k":"r"},{"c":"e4","n":"CD27⁺IgA⁺IgG⁺CS MemB-1","r":5,"v":0.63,"k":"b"},{"c":"e4","n":"CD27⁺IgA⁺IgG⁺CS MemB-1","r":6,"v":0.67,"k":"r"},{"c":"e4","n":"CD27⁺IgA⁺IgG⁺CS MemB-1","r":7,"v":0.64,"k":"b"},{"c":"e4","n":"CD27⁺IgA⁺IgG⁺CS MemB-1","r":8,"v":0.69,"k":"r"},{"c":"e4","n":"CD27⁺IgA⁺IgG⁺CS MemB-1","r":9,"v":0.66,"k":"b"}
],
"eLow":[
{"c":"e1","n":"E01","v":0.250,"o":"p"},{"c":"e1","n":"E02","v":0.248,"o":"p"},{"c":"e1","n":"E03","v":0.246,"o":"d"},{"c":"e1","n":"E04","v":0.245,"o":"p"},{"c":"e1","n":"E05","v":0.244,"o":"d"},{"c":"e1","n":"E06","v":0.242,"o":"p"},{"c":"e1","n":"E07","v":0.241,"o":"g"},{"c":"e1","n":"E08","v":0.240,"o":"d"},{"c":"e1","n":"E09","v":0.238,"o":"g"},{"c":"e1","n":"E10","v":0.236,"o":"g"},{"c":"e1","n":"E11","v":0.235,"o":"d"},{"c":"e1","n":"E12","v":0.234,"o":"g"},{"c":"e1","n":"E13","v":0.232,"o":"g"},{"c":"e1","n":"E14","v":0.231,"o":"g"},{"c":"e1","n":"E15","v":0.229,"o":"d"},{"c":"e1","n":"E16","v":0.228,"o":"g"},{"c":"e1","n":"E17","v":0.226,"o":"g"},{"c":"e1","n":"E18","v":0.225,"o":"d"},{"c":"e1","n":"E19","v":0.224,"o":"g"},{"c":"e1","n":"E20","v":0.222,"o":"g"},{"c":"e1","n":"E21","v":0.221,"o":"g"},{"c":"e1","n":"E22","v":0.219,"o":"d"},{"c":"e1","n":"E23","v":0.218,"o":"d"},{"c":"e1","n":"E24","v":0.216,"o":"g"},{"c":"e1","n":"E25","v":0.215,"o":"g"},{"c":"e1","n":"E26","v":0.214,"o":"g"},{"c":"e1","n":"E27","v":0.212,"o":"d"},{"c":"e1","n":"E28","v":0.211,"o":"g"},{"c":"e1","n":"E29","v":0.209,"o":"g"},{"c":"e1","n":"E30","v":0.208,"o":"d"},{"c":"e1","n":"E31","v":0.207,"o":"g"},{"c":"e1","n":"E32","v":0.205,"o":"g"},{"c":"e1","n":"E33","v":0.204,"o":"g"},{"c":"e1","n":"E34","v":0.202,"o":"d"},{"c":"e1","n":"E35","v":0.201,"o":"g"},{"c":"e1","n":"E36","v":0.200,"o":"g"},{"c":"e1","n":"E37","v":0.198,"o":"d"},{"c":"e1","n":"E38","v":0.197,"o":"g"},{"c":"e1","n":"E39","v":0.196,"o":"g"},{"c":"e1","n":"E40","v":0.194,"o":"d"},{"c":"e1","n":"E41","v":0.193,"o":"g"},{"c":"e1","n":"E42","v":0.192,"o":"d"},{"c":"e1","n":"E43","v":0.190,"o":"g"},{"c":"e1","n":"E44","v":0.189,"o":"d"},{"c":"e1","n":"E45","v":0.187,"o":"d"},{"c":"e1","n":"E46","v":0.186,"o":"g"},{"c":"e1","n":"E47","v":0.184,"o":"d"},{"c":"e1","n":"E48","v":0.182,"o":"d"},
{"c":"e2","n":"E01","v":0.266,"o":"g"},{"c":"e2","n":"E02","v":0.264,"o":"g"},{"c":"e2","n":"E03","v":0.262,"o":"g"},{"c":"e2","n":"E04","v":0.260,"o":"d"},{"c":"e2","n":"E05","v":0.259,"o":"g"},{"c":"e2","n":"E06","v":0.257,"o":"g"},{"c":"e2","n":"E07","v":0.256,"o":"g"},{"c":"e2","n":"E08","v":0.255,"o":"g"},{"c":"e2","n":"E09","v":0.253,"o":"g"},{"c":"e2","n":"E10","v":0.252,"o":"d"},{"c":"e2","n":"E11","v":0.251,"o":"g"},{"c":"e2","n":"E12","v":0.250,"o":"g"},{"c":"e2","n":"E13","v":0.249,"o":"d"},{"c":"e2","n":"E14","v":0.248,"o":"g"},{"c":"e2","n":"E15","v":0.247,"o":"d"},{"c":"e2","n":"E16","v":0.246,"o":"d"},{"c":"e2","n":"E17","v":0.245,"o":"d"},{"c":"e2","n":"E18","v":0.244,"o":"g"},{"c":"e2","n":"E19","v":0.243,"o":"d"},{"c":"e2","n":"E20","v":0.242,"o":"d"},{"c":"e2","n":"E21","v":0.241,"o":"g"},{"c":"e2","n":"E22","v":0.240,"o":"d"},{"c":"e2","n":"E23","v":0.239,"o":"d"},{"c":"e2","n":"E24","v":0.238,"o":"g"},{"c":"e2","n":"E25","v":0.237,"o":"g"},{"c":"e2","n":"E26","v":0.236,"o":"g"},{"c":"e2","n":"E27","v":0.235,"o":"g"},{"c":"e2","n":"E28","v":0.234,"o":"d"},{"c":"e2","n":"E29","v":0.233,"o":"g"},{"c":"e2","n":"E30","v":0.232,"o":"g"},{"c":"e2","n":"E31","v":0.231,"o":"g"},{"c":"e2","n":"E32","v":0.230,"o":"g"},{"c":"e2","n":"E33","v":0.229,"o":"g"},{"c":"e2","n":"E34","v":0.228,"o":"g"},{"c":"e2","n":"E35","v":0.227,"o":"d"},{"c":"e2","n":"E36","v":0.226,"o":"g"},{"c":"e2","n":"E37","v":0.225,"o":"g"},{"c":"e2","n":"E38","v":0.224,"o":"g"},{"c":"e2","n":"E39","v":0.223,"o":"d"},{"c":"e2","n":"E40","v":0.222,"o":"g"},{"c":"e2","n":"E41","v":0.221,"o":"g"},{"c":"e2","n":"E42","v":0.220,"o":"g"},{"c":"e2","n":"E43","v":0.219,"o":"g"},{"c":"e2","n":"E44","v":0.218,"o":"d"},{"c":"e2","n":"E45","v":0.217,"o":"g"},{"c":"e2","n":"E46","v":0.216,"o":"g"},{"c":"e2","n":"E47","v":0.215,"o":"d"},{"c":"e2","n":"E48","v":0.213,"o":"g"},
{"c":"e3","n":"E01","v":0.410,"o":"g"},{"c":"e3","n":"E02","v":0.404,"o":"g"},{"c":"e3","n":"E03","v":0.398,"o":"g"},{"c":"e3","n":"E04","v":0.393,"o":"g"},{"c":"e3","n":"E05","v":0.389,"o":"g"},{"c":"e3","n":"E06","v":0.385,"o":"g"},{"c":"e3","n":"E07","v":0.382,"o":"g"},{"c":"e3","n":"E08","v":0.379,"o":"g"},{"c":"e3","n":"E09","v":0.377,"o":"g"},{"c":"e3","n":"E10","v":0.375,"o":"g"},{"c":"e3","n":"E11","v":0.373,"o":"g"},{"c":"e3","n":"E12","v":0.371,"o":"g"},{"c":"e3","n":"E13","v":0.369,"o":"g"},{"c":"e3","n":"E14","v":0.368,"o":"g"},{"c":"e3","n":"E15","v":0.366,"o":"g"},{"c":"e3","n":"E16","v":0.365,"o":"g"},{"c":"e3","n":"E17","v":0.364,"o":"g"},{"c":"e3","n":"E18","v":0.362,"o":"g"},{"c":"e3","n":"E19","v":0.361,"o":"g"},{"c":"e3","n":"E20","v":0.360,"o":"g"},{"c":"e3","n":"E21","v":0.359,"o":"g"},{"c":"e3","n":"E22","v":0.358,"o":"g"},{"c":"e3","n":"E23","v":0.357,"o":"g"},{"c":"e3","n":"E24","v":0.356,"o":"g"},{"c":"e3","n":"E25","v":0.355,"o":"g"},{"c":"e3","n":"E26","v":0.354,"o":"g"},{"c":"e3","n":"E27","v":0.353,"o":"d"},{"c":"e3","n":"E28","v":0.352,"o":"d"},{"c":"e3","n":"E29","v":0.351,"o":"g"},{"c":"e3","n":"E30","v":0.350,"o":"d"},{"c":"e3","n":"E31","v":0.349,"o":"d"},{"c":"e3","n":"E32","v":0.348,"o":"d"},{"c":"e3","n":"E33","v":0.347,"o":"d"},{"c":"e3","n":"E34","v":0.346,"o":"g"},{"c":"e3","n":"E35","v":0.345,"o":"d"},{"c":"e3","n":"E36","v":0.344,"o":"d"},{"c":"e3","n":"E37","v":0.343,"o":"d"},{"c":"e3","n":"E38","v":0.342,"o":"d"},{"c":"e3","n":"E39","v":0.341,"o":"d"},{"c":"e3","n":"E40","v":0.340,"o":"d"},{"c":"e3","n":"E41","v":0.339,"o":"g"},{"c":"e3","n":"E42","v":0.338,"o":"d"},{"c":"e3","n":"E43","v":0.337,"o":"d"},{"c":"e3","n":"E44","v":0.335,"o":"d"},{"c":"e3","n":"E45","v":0.333,"o":"d"},{"c":"e3","n":"E46","v":0.331,"o":"d"},{"c":"e3","n":"E47","v":0.328,"o":"d"},{"c":"e3","n":"E48","v":0.325,"o":"d"},
{"c":"e4","n":"E01","v":0.620,"o":"m"},{"c":"e4","n":"E02","v":0.605,"o":"g"},{"c":"e4","n":"E03","v":0.592,"o":"g"},{"c":"e4","n":"E04","v":0.582,"o":"g"},{"c":"e4","n":"E05","v":0.574,"o":"g"},{"c":"e4","n":"E06","v":0.568,"o":"g"},{"c":"e4","n":"E07","v":0.563,"o":"g"},{"c":"e4","n":"E08","v":0.559,"o":"g"},{"c":"e4","n":"E09","v":0.556,"o":"g"},{"c":"e4","n":"E10","v":0.553,"o":"g"},{"c":"e4","n":"E11","v":0.550,"o":"g"},{"c":"e4","n":"E12","v":0.548,"o":"g"},{"c":"e4","n":"E13","v":0.546,"o":"g"},{"c":"e4","n":"E14","v":0.544,"o":"g"},{"c":"e4","n":"E15","v":0.542,"o":"g"},{"c":"e4","n":"E16","v":0.540,"o":"g"},{"c":"e4","n":"E17","v":0.538,"o":"g"},{"c":"e4","n":"E18","v":0.536,"o":"g"},{"c":"e4","n":"E19","v":0.535,"o":"g"},{"c":"e4","n":"E20","v":0.533,"o":"g"},{"c":"e4","n":"E21","v":0.532,"o":"g"},{"c":"e4","n":"E22","v":0.530,"o":"g"},{"c":"e4","n":"E23","v":0.529,"o":"g"},{"c":"e4","n":"E24","v":0.527,"o":"g"},{"c":"e4","n":"E25","v":0.526,"o":"g"},{"c":"e4","n":"E26","v":0.524,"o":"g"},{"c":"e4","n":"E27","v":0.523,"o":"g"},{"c":"e4","n":"E28","v":0.521,"o":"g"},{"c":"e4","n":"E29","v":0.520,"o":"d"},{"c":"e4","n":"E30","v":0.518,"o":"d"},{"c":"e4","n":"E31","v":0.517,"o":"d"},{"c":"e4","n":"E32","v":0.515,"o":"d"},{"c":"e4","n":"E33","v":0.513,"o":"d"},{"c":"e4","n":"E34","v":0.511,"o":"d"},{"c":"e4","n":"E35","v":0.509,"o":"d"},{"c":"e4","n":"E36","v":0.507,"o":"d"},{"c":"e4","n":"E37","v":0.505,"o":"d"},{"c":"e4","n":"E38","v":0.503,"o":"d"},{"c":"e4","n":"E39","v":0.501,"o":"d"},{"c":"e4","n":"E40","v":0.499,"o":"d"},{"c":"e4","n":"E41","v":0.497,"o":"d"},{"c":"e4","n":"E42","v":0.494,"o":"d"},{"c":"e4","n":"E43","v":0.491,"o":"d"},{"c":"e4","n":"E44","v":0.488,"o":"d"},{"c":"e4","n":"E45","v":0.485,"o":"d"},{"c":"e4","n":"E46","v":0.481,"o":"d"},{"c":"e4","n":"E47","v":0.477,"o":"d"},{"c":"e4","n":"E48","v":0.472,"o":"d"}
]
},
"spacing":22,
"vconcat":[
{
 "spacing":-2,
 "resolve":{"scale":{"color":"independent","fill":"independent"}},
 "hconcat":[
  {"width":1,"height":190,"data":{"values":[{"z":0}]},"mark":{"type":"point","opacity":0},
   "title":{"text":"a","anchor":"start","frame":"group","baseline":"bottom","offset":0,"dx":-20,"dy":12,"fontWeight":"bold","fontSize":14},
   "encoding":{"y":{"field":"z","type":"quantitative","axis":{"title":"Mutational spectra","labels":false,"ticks":false,"domain":false,"titlePadding":3,"titleFontSize":11.5}}}},
  {
   "spacing":0,
   "resolve":{"scale":{"color":"independent","fill":"independent"}},
   "vconcat":[
    {
     "title":{"text":"SHM","orient":"left","anchor":"middle","fontSize":11,"offset":3,"dx":-9},
     "data":{"name":"spec"},
     "transform":[{"filter":"datum.s == 'SHM'"}],
     "facet":{"column":{"field":"t","type":"nominal","header":{"title":null,"labelFontSize":10.5,"labelPadding":0}}},
     "spacing":5,
     "resolve":{"scale":{"x":"independent"}},
     "spec":{
      "width":103,"height":84,
      "view":{"stroke":"#000","strokeWidth":1},
      "layer":[
       {"transform":[{"filter":"isValid(datum.v)"}],
        "mark":{"type":"bar"},
        "encoding":{
         "x":{"field":"k","type":"nominal","sort":null,"axis":null,"scale":{"paddingInner":0.35,"paddingOuter":0.2}},
         "y":{"field":"v","type":"quantitative","scale":{"domain":[0,84],"nice":false},"axis":null},
         "color":{"field":"t","type":"nominal","scale":{"domain":["C>A","C>G","C>T","T>A","T>C","T>G"],"range":["#4a87c9","#000000","#e8222b","#b4b4b4","#8dc63f","#e4a9d2"]},"legend":null}}},
       {"transform":[{"filter":"datum.strip == 1"}],
        "mark":{"type":"rect"},
        "encoding":{
         "y":{"datum":79},"y2":{"datum":84},
         "color":{"field":"t","type":"nominal","scale":{"domain":["C>A","C>G","C>T","T>A","T>C","T>G"],"range":["#4a87c9","#000000","#e8222b","#b4b4b4","#8dc63f","#e4a9d2"]},"legend":null}}}
      ]
     }
    },
    {
     "title":{"text":"SBS9","orient":"left","anchor":"middle","fontSize":11,"offset":3,"dx":10},
     "data":{"name":"spec"},
     "transform":[{"filter":"datum.s == 'SBS9'"}],
     "facet":{"column":{"field":"t","type":"nominal","header":{"title":null,"labels":false}}},
     "spacing":5,
     "resolve":{"scale":{"x":"independent"}},
     "spec":{
      "width":103,"height":77,
      "view":{"stroke":"#000","strokeWidth":1},
      "mark":{"type":"bar"},
      "encoding":{
       "x":{"field":"k","type":"nominal","sort":null,"scale":{"paddingInner":0.35,"paddingOuter":0.2},"axis":{"title":null,"labelExpr":"split(datum.value, '|')[1] == '1' ? split(datum.value, '|')[0] : ''","labelAngle":270,"labelFontSize":7,"ticks":false,"domain":false,"labelPadding":2,"labelOverlap":false}},
       "y":{"field":"v","type":"quantitative","scale":{"domain":[0,77],"nice":false},"axis":null},
       "color":{"field":"t","type":"nominal","scale":{"domain":["C>A","C>G","C>T","T>A","T>C","T>G"],"range":["#4a87c9","#000000","#e8222b","#b4b4b4","#8dc63f","#e4a9d2"]},"legend":null}
      }
     }
    }
   ]
  }
 ]
},
{
 "spacing":9,
 "resolve":{"scale":{"color":"independent","fill":"independent"}},
 "vconcat":[
  {
   "spacing":-12,
   "resolve":{"scale":{"color":"independent","fill":"independent"}},
   "hconcat":[
    {"width":1,"height":1,"data":{"values":[{"z":0}]},"mark":{"type":"point","opacity":0},"encoding":{},
     "title":{"text":"b","anchor":"start","frame":"group","baseline":"bottom","offset":0,"dx":-20,"dy":36,"fontWeight":"bold","fontSize":14}},
    {
     "spacing":51,
     "resolve":{"scale":{"color":"independent","fill":"independent"}},
     "hconcat":[
      {
       "width":258,"height":207,
       "layer":[
        {"data":{"name":"bpts"},
         "mark":{"type":"circle","size":42,"fill":"#a86aa8","stroke":"#333","strokeWidth":0.6,"opacity":1},
         "encoding":{
          "x":{"field":"n","type":"quantitative","scale":{"domain":[-25,2285],"nice":false,"zero":false},"axis":{"title":"No. of SBS9 mutations","values":[0,500,1000,1500,2000],"labelExpr":"format(datum.value, ',')","labelFontSize":11.5,"labelFlush":false}},
          "y":{"field":"p","type":"quantitative","scale":{"domain":[-0.6,13.6],"nice":false,"zero":false},"axis":{"title":"IGHV mutations (%)","values":[0,5,10],"labelFontSize":11.5,"titlePadding":10}}}},
        {"data":{"name":"bfit"},"mark":{"type":"line","color":"#000","strokeWidth":1},
         "encoding":{"x":{"field":"n","type":"quantitative"},"y":{"field":"p","type":"quantitative"}}},
        {"data":{"values":[{"t":"R² = 0.57  P = 4 × 10⁻⁹"}]},
         "mark":{"type":"text","align":"right","baseline":"middle","fontSize":11.5},
         "encoding":{"text":{"field":"t"},"x":{"datum":2330},"y":{"datum":0.8}}}
       ]
      },
      {
       "width":257,"height":207,
       "title":{"text":"c","anchor":"start","frame":"bounds","baseline":"bottom","offset":0,"fontWeight":"bold","fontSize":14,"dx":-16,"dy":36},
       "layer":[
        {"data":{"name":"cpts"},
         "mark":{"type":"circle","size":42,"stroke":"#333","strokeWidth":0.6,"opacity":1},
         "encoding":{
          "x":{"field":"n","type":"quantitative","scale":{"domain":[-93,2291],"nice":false,"zero":false},"axis":{"title":"No. of SBS9 mutations","values":[0,500,1000,1500,2000],"labelExpr":"format(datum.value, ',')","labelFontSize":11.5,"labelFlush":false}},
          "y":{"field":"tl","type":"quantitative","scale":{"domain":[-0.7,35.5],"nice":false,"zero":false},"axis":{"title":"Telomere length (kb)","values":[0,10,20,30],"labelFontSize":11.5,"titlePadding":14}},
          "fill":{"field":"g","type":"nominal","scale":{"domain":["Memory B","Memory T","Naive B","Naive T","HSPC"],"range":["#a86aa8","#f3803f","#e57fae","#7b97cc","#5cb85a"]},"legend":{"orient":"top-left","title":null,"labelFontSize":11.5,"symbolSize":55,"symbolType":"circle","symbolStrokeColor":"#333","symbolStrokeWidth":0.6,"offset":8,"rowPadding":4}}}},
        {"data":{"name":"cfit"},"mark":{"type":"line","color":"#000","strokeWidth":1},
         "encoding":{"x":{"field":"n","type":"quantitative"},"y":{"field":"tl","type":"quantitative"}}},
        {"data":{"values":[{"t":"R² = 0.37  P = 3 × 10⁻⁸"}]},
         "mark":{"type":"text","align":"right","baseline":"middle","fontSize":11.5},
         "encoding":{"text":{"field":"t"},"x":{"datum":2326},"y":{"datum":2.9}}}
       ]
      }
     ]
    }
   ]
  },
  {
   "spacing":14,
   "resolve":{"scale":{"color":"independent","fill":"independent"}},
   "vconcat":[
    {
     "spacing":-10,
     "resolve":{"scale":{"color":"independent","fill":"independent"}},
     "hconcat":[
      {"width":1,"height":1,"data":{"values":[{"z":0}]},"mark":{"type":"point","opacity":0},"encoding":{},
       "title":{"text":"d","anchor":"start","frame":"group","baseline":"bottom","offset":0,"dx":-20,"dy":15,"fontWeight":"bold","fontSize":14}},
      {
       "title":{"text":"Full GAM predictors","orient":"bottom","anchor":"middle","fontSize":11.5,"offset":9},
       "spacing":20,
       "resolve":{"scale":{"color":"independent","fill":"independent"}},
       "hconcat":[
        {
         "width":293,"height":59,
         "layer":[
          {"data":{"name":"dl"},"mark":{"type":"bar"},
           "encoding":{
            "x":{"field":"f","type":"nominal","sort":null,"scale":{"paddingInner":0.25,"paddingOuter":0.12},"axis":{"title":null,"labelAngle":-45,"labelFontSize":9,"ticks":false,"labelPadding":3}},
            "y":{"field":"r","type":"quantitative","scale":{"domain":[0,0.187],"nice":false},"axis":{"title":"R²","titleFontStyle":"italic","values":[0,0.05,0.1,0.15],"labelExpr":"datum.value == 0 ? '0' : format(datum.value, '.2f')","labelFontSize":11,"titlePadding":2}},
            "color":{"field":"r","type":"quantitative","scale":{"domain":[0,0.012],"range":["#dbe8f6","#1f6fc0"],"clamp":true},"legend":null}}},
          {"data":{"values":[{"t":"SBS9"}]},"mark":{"type":"text","baseline":"bottom","align":"center","fontSize":11.5},
           "encoding":{"text":{"field":"t"},"x":{"datum":"Replication timing"},"y":{"datum":0.193}}}
         ]
        },
        {
         "width":268,"height":59,
         "title":{"text":"SBSblood + SBS1","anchor":"start","frame":"group","dx":-21,"fontSize":11.5,"offset":2},
         "data":{"name":"dr"},
         "mark":{"type":"bar"},
         "encoding":{
          "x":{"field":"f","type":"nominal","sort":null,"scale":{"paddingInner":0.25,"paddingOuter":0.12},"axis":{"title":null,"labelAngle":-45,"labelFontSize":9,"ticks":false,"labelPadding":3}},
          "y":{"field":"r","type":"quantitative","scale":{"domain":[0,0.187],"nice":false},"axis":{"title":"R²","titleFontStyle":"italic","values":[0,0.05,0.1,0.15],"labelExpr":"datum.value == 0 ? '0' : format(datum.value, '.2f')","labelFontSize":11,"titlePadding":2}},
          "color":{"field":"r","type":"quantitative","scale":{"domain":[0,0.012],"range":["#dbe8f6","#1f6fc0"],"clamp":true},"legend":null}}
        }
       ]
      }
     ]
    },
    {
     "spacing":0,
     "resolve":{"scale":{"color":"independent","fill":"independent"}},
     "hconcat":[
      {"width":1,"height":140,"data":{"values":[{"z":0}]},"mark":{"type":"point","opacity":0},
       "title":{"text":"e","anchor":"start","frame":"group","baseline":"bottom","offset":0,"dx":-20,"dy":6,"fontWeight":"bold","fontSize":14},
       "encoding":{"y":{"field":"z","type":"quantitative","axis":{"title":"Epigenome cell type","labels":false,"ticks":false,"domain":false,"titlePadding":8,"titleFontSize":11.5}}}},
      {
       "title":{"text":"Coefficient of determination","orient":"bottom","anchor":"middle","fontSize":11.5,"offset":1},
       "spacing":0,
       "resolve":{"scale":{"color":"independent","fill":"independent"}},
       "hconcat":[
        {
         "title":{"text":"HSPC SBSblood","fontSize":11.5,"anchor":"end","frame":"bounds","dx":-16},
         "spacing":0,
         "resolve":{"scale":{"color":"independent","fill":"independent"}},
         "vconcat":[
          {"width":72,"height":44,
           "layer":[
            {"data":{"name":"eTop"},"transform":[{"filter":"datum.c == 'e1'"}],"mark":{"type":"bar"},
             "encoding":{
              "y":{"field":"n","type":"nominal","sort":null,"scale":{"paddingInner":0.14,"paddingOuter":0.04},"axis":{"title":null,"labelFontSize":10.5,"tickSize":3,"tickColor":"#d58ab5","labelPadding":2}},
              "x":{"field":"v","type":"quantitative","scale":{"domain":[0,0.434],"nice":false},"axis":null},
              "color":{"field":"o","type":"nominal","scale":{"domain":["k1","k2","k3","l","g","d","p","m"],"range":["#5a865a","#2f6b30","#28592a","#a9c1a9","#86c886","#8fa68f","#c6d7c6","#5f8a60"]},"legend":null}}},
            {"data":{"name":"eDots"},"transform":[{"filter":"datum.c == 'e1'"}],"mark":{"type":"circle","size":5,"opacity":1},
             "encoding":{"y":{"field":"n","type":"nominal","sort":null},"yOffset":{"field":"r","type":"nominal"},"x":{"field":"v","type":"quantitative"},"fill":{"field":"k","type":"nominal","scale":{"domain":["b","r"],"range":["#000000","#c1272d"]},"legend":null}}},
            {"data":{"values":[{"a":"HSCs-3","b":"HSCs-2"}]},"mark":{"type":"rule","color":"#555"},
             "encoding":{"x":{"datum":0.426},"y":{"field":"a","type":"nominal","sort":null},"y2":{"field":"b"}}},
            {"data":{"values":[{"n":"HSCs-3"},{"n":"HSCs-2"}]},"mark":{"type":"rule","color":"#555"},
             "encoding":{"x":{"datum":0.41},"x2":{"datum":0.426},"y":{"field":"n","type":"nominal","sort":null}}},
            {"data":{"values":[{"n":"HSCs-4","t":"*"}]},"mark":{"type":"text","align":"left","baseline":"middle","fontSize":12},
             "encoding":{"x":{"datum":0.445},"y":{"field":"n","type":"nominal","sort":null},"text":{"field":"t"}}}
           ]},
          {"width":72,"height":96,
           "data":{"name":"eLow"},"transform":[{"filter":"datum.c == 'e1'"}],"mark":{"type":"bar"},
           "encoding":{
            "y":{"field":"n","type":"nominal","sort":null,"scale":{"paddingInner":0,"paddingOuter":0},"axis":{"title":null,"labels":false,"ticks":false}},
            "x":{"field":"v","type":"quantitative","scale":{"domain":[0,0.434],"nice":false},"axis":{"title":null,"values":[0,0.2,0.4],"labelExpr":"datum.value == 0 ? '0' : format(datum.value, '.1f')","labelFontSize":11.5,"tickSize":4,"labelFlush":false}},
            "color":{"field":"o","type":"nominal","scale":{"domain":["k1","k2","k3","l","g","d","p","m"],"range":["#5a865a","#2f6b30","#28592a","#a9c1a9","#86c886","#8fa68f","#c6d7c6","#5f8a60"]},"legend":null}}}
         ]
        },
        {
         "spacing":-18,
         "resolve":{"scale":{"color":"independent","fill":"independent"}},
         "hconcat":[
          {
           "title":{"text":"Naive B SBSblood","fontSize":11.5,"anchor":"end","frame":"bounds","dx":-11},
           "spacing":0,
           "resolve":{"scale":{"color":"independent","fill":"independent"}},
           "vconcat":[
            {"width":73,"height":44,
             "layer":[
              {"data":{"name":"eTop"},"transform":[{"filter":"datum.c == 'e2'"}],"mark":{"type":"bar"},
               "encoding":{
                "y":{"field":"n","type":"nominal","sort":null,"scale":{"paddingInner":0.14,"paddingOuter":0.04},"axis":{"title":null,"labelFontSize":10.5,"tickSize":3,"tickColor":"#555","labelPadding":2,"labelExpr":"datum.value == 'Neutrophilic Myelocytes-2' || datum.value == 'Monocytes-1' ? '' : datum.value"}},
                "x":{"field":"v","type":"quantitative","scale":{"domain":[0,0.46],"nice":false},"axis":null},
                "color":{"field":"o","type":"nominal","scale":{"domain":["k1","k2","k3","l","g","d","p","m"],"range":["#5a865a","#2f6b30","#28592a","#a9c1a9","#86c886","#8fa68f","#c6d7c6","#5f8a60"]},"legend":null}}},
              {"data":{"name":"eDots"},"transform":[{"filter":"datum.c == 'e2'"}],"mark":{"type":"circle","size":5,"opacity":1},
               "encoding":{"y":{"field":"n","type":"nominal","sort":null},"yOffset":{"field":"r","type":"nominal"},"x":{"field":"v","type":"quantitative"},"fill":{"field":"k","type":"nominal","scale":{"domain":["b","r"],"range":["#000000","#c1272d"]},"legend":null}}},
              {"data":{"values":[{"a":"HSCs-4","b":"Monocytes-1"}]},"mark":{"type":"rule","color":"#555"},
               "encoding":{"x":{"datum":0.448},"y":{"field":"a","type":"nominal","sort":null},"y2":{"field":"b"}}},
              {"data":{"values":[{"n":"HSCs-4"},{"n":"Monocytes-1"}]},"mark":{"type":"rule","color":"#555"},
               "encoding":{"x":{"datum":0.43},"x2":{"datum":0.448},"y":{"field":"n","type":"nominal","sort":null}}},
              {"data":{"values":[{"n":"HSCs-2","t":"*"}]},"mark":{"type":"text","align":"left","baseline":"middle","fontSize":12},
               "encoding":{"x":{"datum":0.47},"y":{"field":"n","type":"nominal","sort":null},"text":{"field":"t"}}},
              {"data":{"values":[{"n":"Neutrophilic Myelocytes-2","t":"Neutrophilic"}]},"mark":{"type":"text","align":"right","baseline":"middle","fontSize":10.5},
               "encoding":{"x":{"datum":-0.13},"y":{"field":"n","type":"nominal","sort":null},"text":{"field":"t"}}},
              {"data":{"values":[{"n":"Neutrophilic Myelocytes-2"}]},"mark":{"type":"rule","color":"#000"},
               "encoding":{"x":{"datum":-0.125},"x2":{"datum":-0.005},"y":{"field":"n","type":"nominal","sort":null}}}
             ]},
            {"width":73,"height":96,
             "layer":[
              {"data":{"name":"eLow"},"transform":[{"filter":"datum.c == 'e2'"}],"mark":{"type":"bar"},
               "encoding":{
                "y":{"field":"n","type":"nominal","sort":null,"scale":{"paddingInner":0,"paddingOuter":0},"axis":{"title":null,"labels":false,"ticks":false}},
                "x":{"field":"v","type":"quantitative","scale":{"domain":[0,0.46],"nice":false},"axis":{"title":null,"values":[0,0.2,0.4],"labelExpr":"datum.value == 0 ? '0' : format(datum.value, '.1f')","labelFontSize":11.5,"tickSize":4,"labelFlush":false}},
                "color":{"field":"o","type":"nominal","scale":{"domain":["k1","k2","k3","l","g","d","p","m"],"range":["#5a865a","#2f6b30","#28592a","#a9c1a9","#86c886","#8fa68f","#c6d7c6","#5f8a60"]},"legend":null}}},
              {"data":{"values":[{"n":"E03","t":"Myelocytes-2","x":-0.075},{"n":"E12","t":"Monocytes-1","x":-0.16}]},"mark":{"type":"text","align":"right","baseline":"middle","fontSize":10.5},
               "encoding":{"x":{"field":"x","type":"quantitative"},"y":{"field":"n","type":"nominal","sort":null},"text":{"field":"t"}}},
              {"data":{"values":[{"a":"E11","b":"E01"}]},"mark":{"type":"rule","color":"#000"},
               "encoding":{"x":{"datum":-0.15},"x2":{"datum":-0.006},"y":{"field":"a","type":"nominal","sort":null},"y2":{"field":"b"}}}
             ]}
           ]
          },
          {
           "spacing":-16,
           "resolve":{"scale":{"color":"independent","fill":"independent"}},
           "hconcat":[
            {
             "title":{"text":"Memory B SBSblood","fontSize":11.5,"anchor":"end","frame":"bounds","dx":-17},
             "spacing":0,
             "resolve":{"scale":{"color":"independent","fill":"independent"}},
             "vconcat":[
              {"width":73,"height":44,
               "layer":[
                {"data":{"name":"eTop"},"transform":[{"filter":"datum.c == 'e3'"}],"mark":{"type":"bar"},
                 "encoding":{
                  "y":{"field":"n","type":"nominal","sort":null,"scale":{"paddingInner":0.14,"paddingOuter":0.04},"axis":{"title":null,"labelFontSize":10.5,"tickSize":3,"tickColor":"#555","labelPadding":8,"labelExpr":"datum.value == 'IgD⁺CD38⁺ B-1' || datum.value == 'IgD⁺CD38⁺ B-3' ? '' : datum.value"}},
                  "x":{"field":"v","type":"quantitative","scale":{"domain":[0,0.524],"nice":false},"axis":null},
                  "color":{"field":"o","type":"nominal","scale":{"domain":["k1","k2","k3","l","g","d","p","m"],"range":["#5a865a","#2f6b30","#28592a","#a9c1a9","#86c886","#8fa68f","#c6d7c6","#5f8a60"]},"legend":null}}},
                {"data":{"name":"eDots"},"transform":[{"filter":"datum.c == 'e3'"}],"mark":{"type":"circle","size":5,"opacity":1},
                 "encoding":{"y":{"field":"n","type":"nominal","sort":null},"yOffset":{"field":"r","type":"nominal"},"x":{"field":"v","type":"quantitative"},"fill":{"field":"k","type":"nominal","scale":{"domain":["b","r"],"range":["#000000","#c1272d"]},"legend":null}}},
                {"data":{"values":[{"a":"CD27-IgD-CS MemB","b":"IgD⁺CD38⁺ B-2"}]},"mark":{"type":"rule","color":"#555"},
                 "encoding":{"x":{"datum":0.555},"y":{"field":"a","type":"nominal","sort":null},"y2":{"field":"b"}}},
                {"data":{"values":[{"n":"CD27-IgD-CS MemB"},{"n":"IgD⁺CD38⁺ B-2"}]},"mark":{"type":"rule","color":"#555"},
                 "encoding":{"x":{"datum":0.535},"x2":{"datum":0.555},"y":{"field":"n","type":"nominal","sort":null}}},
                {"data":{"values":[{"n":"IgD⁺CD38⁺ B-3","t":"*"}]},"mark":{"type":"text","align":"left","baseline":"middle","fontSize":12},
                 "encoding":{"x":{"datum":0.58},"y":{"field":"n","type":"nominal","sort":null},"text":{"field":"t"}}},
                {"data":{"values":[{"a":"IgD⁺CD38⁺ B-3","b":"IgD⁺CD38⁺ B-2"}]},"mark":{"type":"rule","color":"#555"},
                 "encoding":{"x":{"datum":-0.04},"y":{"field":"a","type":"nominal","sort":null},"y2":{"field":"b"}}},
                {"data":{"values":[{"n":"IgD⁺CD38⁺ B-3"}]},"mark":{"type":"rule","color":"#555"},
                 "encoding":{"x":{"datum":-0.04},"x2":{"datum":-0.022},"y":{"field":"n","type":"nominal","sort":null}}}
               ]},
              {"width":73,"height":96,
               "layer":[
                {"data":{"name":"eLow"},"transform":[{"filter":"datum.c == 'e3'"}],"mark":{"type":"bar"},
                 "encoding":{
                  "y":{"field":"n","type":"nominal","sort":null,"scale":{"paddingInner":0,"paddingOuter":0},"axis":{"title":null,"labels":false,"ticks":false}},
                  "x":{"field":"v","type":"quantitative","scale":{"domain":[0,0.524],"nice":false},"axis":{"title":null,"values":[0,0.2,0.4],"labelExpr":"datum.value == 0 ? '0' : format(datum.value, '.1f')","labelFontSize":11.5,"tickSize":4,"labelFlush":false}},
                  "color":{"field":"o","type":"nominal","scale":{"domain":["k1","k2","k3","l","g","d","p","m"],"range":["#5a865a","#2f6b30","#28592a","#a9c1a9","#86c886","#8fa68f","#c6d7c6","#5f8a60"]},"legend":null}}},
                {"data":{"values":[{"a":"E01","b":"E18"}]},"mark":{"type":"rule","color":"#555"},
                 "encoding":{"x":{"datum":-0.04},"y":{"field":"a","type":"nominal","sort":null},"y2":{"field":"b"}}},
                {"data":{"values":[{"n":"E18"}]},"mark":{"type":"rule","color":"#555"},
                 "encoding":{"x":{"datum":-0.062},"x2":{"datum":-0.04},"y":{"field":"n","type":"nominal","sort":null}}},
                {"data":{"values":[{"n":"E18","t":"CD27⁺IgA⁺IgG⁺CS MemB"}]},"mark":{"type":"text","align":"right","baseline":"middle","fontSize":10.5},
                 "encoding":{"x":{"datum":-0.07},"y":{"field":"n","type":"nominal","sort":null},"text":{"field":"t"}}}
               ]}
             ]
            },
            {
             "title":{"text":"Memory B SBS9","fontSize":11.5,"anchor":"end","frame":"bounds","dx":-54},
             "spacing":0,
             "resolve":{"scale":{"color":"independent","fill":"independent"}},
             "vconcat":[
              {"width":77,"height":44,
               "layer":[
                {"data":{"name":"eTop"},"transform":[{"filter":"datum.c == 'e4'"}],"mark":{"type":"bar"},
                 "encoding":{
                  "y":{"field":"n","type":"nominal","sort":null,"scale":{"paddingInner":0.14,"paddingOuter":0.04},"axis":{"title":null,"labelFontSize":10.5,"tickSize":3,"tickColor":"#d58ab5","labelPadding":2,"labelExpr":"datum.value == 'CD27⁻IgD⁻CS MemB' || datum.value == 'CD27⁺IgA⁺IgG⁺CS MemB-1' ? '' : datum.value"}},
                  "x":{"field":"v","type":"quantitative","scale":{"domain":[0,0.77],"nice":false},"axis":null},
                  "color":{"field":"o","type":"nominal","scale":{"domain":["k1","k2","k3","l","g","d","p","m"],"range":["#5a865a","#2f6b30","#28592a","#a9c1a9","#86c886","#8fa68f","#c6d7c6","#5f8a60"]},"legend":null}}},
                {"data":{"name":"eDots"},"transform":[{"filter":"datum.c == 'e4'"}],"mark":{"type":"circle","size":5,"opacity":1},
                 "encoding":{"y":{"field":"n","type":"nominal","sort":null},"yOffset":{"field":"r","type":"nominal"},"x":{"field":"v","type":"quantitative"},"fill":{"field":"k","type":"nominal","scale":{"domain":["b","r"],"range":["#000000","#c1272d"]},"legend":null}}},
                {"data":{"values":[{"a":"GC B cells-3","b":"GC B cells-1"}]},"mark":{"type":"rule","color":"#555"},
                 "encoding":{"x":{"datum":0.80},"y":{"field":"a","type":"nominal","sort":null},"y2":{"field":"b"}}},
                {"data":{"values":[{"n":"GC B cells-3"},{"n":"GC B cells-1"}]},"mark":{"type":"rule","color":"#555"},
                 "encoding":{"x":{"datum":0.78},"x2":{"datum":0.80},"y":{"field":"n","type":"nominal","sort":null}}},
                {"data":{"values":[{"n":"GC B cells-2","t":"*"}]},"mark":{"type":"text","align":"left","baseline":"middle","fontSize":12},
                 "encoding":{"x":{"datum":0.825},"y":{"field":"n","type":"nominal","sort":null},"text":{"field":"t"}}}
               ]},
              {"width":77,"height":96,
               "layer":[
                {"data":{"name":"eLow"},"transform":[{"filter":"datum.c == 'e4'"}],"mark":{"type":"bar"},
                 "encoding":{
                  "y":{"field":"n","type":"nominal","sort":null,"scale":{"paddingInner":0,"paddingOuter":0},"axis":{"title":null,"labels":false,"ticks":false}},
                  "x":{"field":"v","type":"quantitative","scale":{"domain":[0,0.77],"nice":false},"axis":{"title":null,"values":[0,0.25,0.5,0.75],"labelExpr":"datum.value == 0 ? '0' : (datum.value == 0.5 ? '0.50' : '')","labelFontSize":11.5,"tickSize":4,"labelFlush":false}},
                  "color":{"field":"o","type":"nominal","scale":{"domain":["k1","k2","k3","l","g","d","p","m"],"range":["#5a865a","#2f6b30","#28592a","#a9c1a9","#86c886","#8fa68f","#c6d7c6","#5f8a60"]},"legend":null}}},
                {"data":{"values":[{"a":"E01","b":"E14"}]},"mark":{"type":"rule","color":"#555"},
                 "encoding":{"x":{"datum":-0.073},"y":{"field":"a","type":"nominal","sort":null},"y2":{"field":"b"}}},
                {"data":{"values":[{"n":"E01","x1":-0.073,"x2":-0.055},{"n":"E14","x1":-0.11,"x2":-0.073}]},"mark":{"type":"rule","color":"#555"},
                 "encoding":{"x":{"field":"x1","type":"quantitative"},"x2":{"field":"x2"},"y":{"field":"n","type":"nominal","sort":null}}},
                {"data":{"values":[{"n":"E14","t":"CD27⁻IgD⁻CS MemB","x":-0.12},{"n":"E22","t":"CD27⁺IgA⁺IgG⁺CS","x":-0.2},{"n":"E30","t":"MemB-1","x":-0.22}]},"mark":{"type":"text","align":"right","baseline":"middle","fontSize":10.5},
                 "encoding":{"x":{"field":"x","type":"quantitative"},"y":{"field":"n","type":"nominal","sort":null},"text":{"field":"t"}}}
               ]}
             ]
            }
           ]
          }
         ]
        }
       ]
      }
     ]
    }
   ]
  }
 ]
}
]
}
